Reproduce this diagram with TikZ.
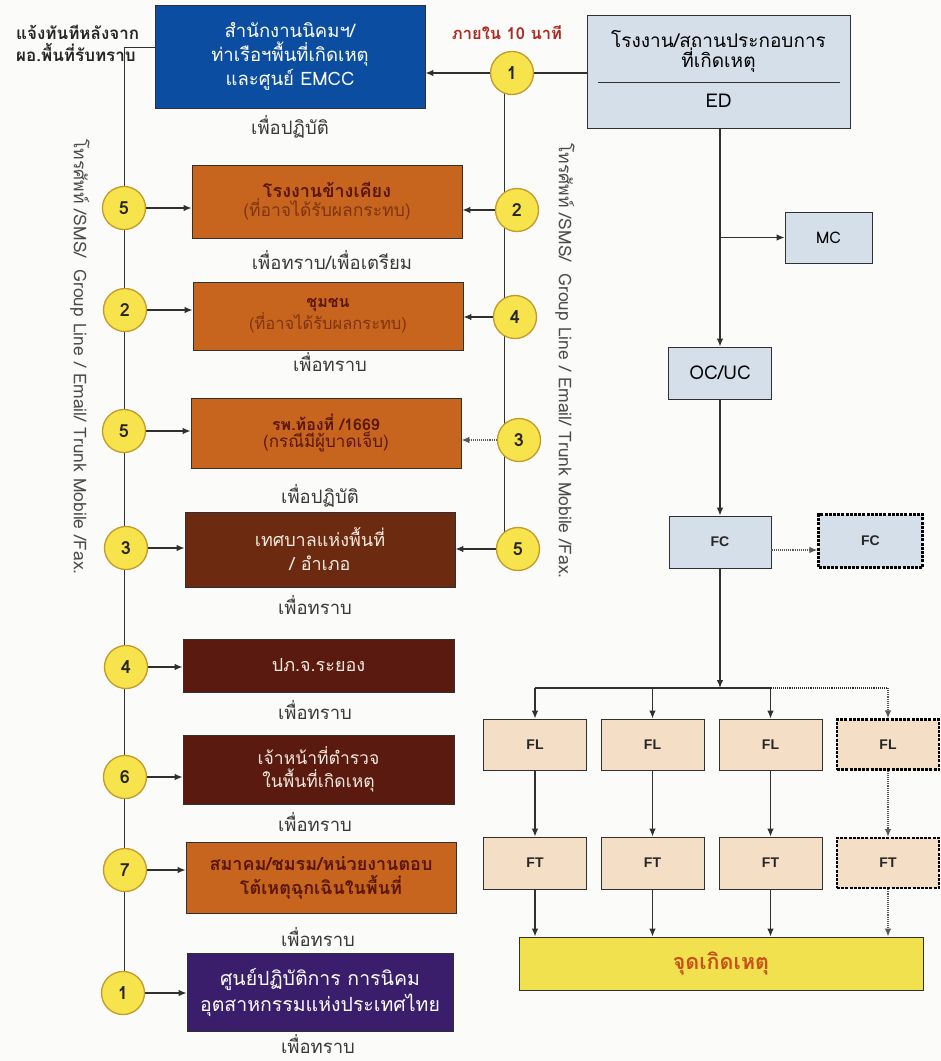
\documentclass[tikz,border=0pt]{standalone}
\usepackage{fontspec}
\setmainfont[Script=Thai]{Loma}
\newfontfamily\latsans{Liberation Sans}
\usetikzlibrary{arrows.meta}

\definecolor{paper}{HTML}{FBFBF9}
\definecolor{linec}{HTML}{303030}
\definecolor{blueb}{HTML}{0B4DA1}
\definecolor{orangeb}{HTML}{C7641E}
\definecolor{brownb}{HTML}{6C2A10}
\definecolor{darkb}{HTML}{5A1A0F}
\definecolor{purpleb}{HTML}{3A1E6C}
\definecolor{greyb}{HTML}{D5DFEA}
\definecolor{peachb}{HTML}{F4DFC6}
\definecolor{yellowb}{HTML}{F1E14E}
\definecolor{circf}{HTML}{F7E34B}
\definecolor{circd}{HTML}{C49A2A}
\definecolor{maroon}{HTML}{5A1608}
\definecolor{subbrown}{HTML}{7E3410}
\definecolor{lighttext}{HTML}{F6E9E0}
\definecolor{alertred}{HTML}{B0281E}
\definecolor{capgray}{HTML}{3A3A3A}
\definecolor{incident}{HTML}{C8501A}

\begin{document}
\begin{tikzpicture}[x=1pt,y=-1pt,
  box/.style={draw=linec, line width=0.9pt, inner sep=2pt, align=center},
  numc/.style={circle, draw=circd, line width=1.3pt, fill=circf, minimum size=43pt,
    inner sep=0pt, font=\bfseries\fontsize{18}{18}\selectfont, text=black!85},
  purpose/.style={font=\fontsize{18.5}{19}\selectfont, text=capgray, inner sep=0pt},
  conn/.style={draw=linec, line width=1.1pt},
  arr/.style={conn, -{Latex[length=8pt,width=6.5pt]}},
  dotarr/.style={draw=linec!80, line width=1.1pt, densely dotted, -{Latex[length=8pt,width=6.5pt]}},
  dashbox/.style={draw=black, line width=2.4pt, dash pattern=on 3pt off 1.2pt},
  fx/.style={font=\latsans\bfseries\fontsize{14}{15}\selectfont, text=black!85},
  vtext/.style={rotate=-90, font=\fontsize{17.5}{18}\selectfont, text=black!70}
]
\fill[paper] (0,0) rectangle (941,1061);
\useasboundingbox (0,0) rectangle (941,1061);

% ---------- right column: incident chain ----------
\node[box, fill=greyb, minimum width=263pt, minimum height=113pt] (ED) at (718.5,71.5) {};
\node[font=\fontsize{19}{20}\selectfont, align=center] (EDt) at (718.5,51) {โรงงาน/สถานประกอบการ\\ที่เกิดเหตุ};
\draw[linec, line width=0.9pt] (598,82) -- (840,82);
\node[font=\fontsize{19}{20}\selectfont] (EDl) at (718.5,101) {ED};

\node[box, fill=greyb, minimum width=87pt, minimum height=51pt, font=\fontsize{16}{17}\selectfont] (MC) at (828.5,237.5) {MC};
\node[box, fill=greyb, minimum width=103pt, minimum height=52pt, font=\fontsize{19}{20}\selectfont] (OCUC) at (720,373) {OC/UC};
\node[box, fill=greyb, minimum width=102pt, minimum height=52pt, fx] (FC) at (720,542) {FC};
\node[box, dashbox, fill=greyb, minimum width=104pt, minimum height=53pt, fx] (FCb) at (870.5,541) {FC};

\foreach \n/\cx in {1/535,2/652.5,3/770.5}{
  \node[box, fill=peachb, minimum width=103pt, minimum height=51pt, fx] (FL\n) at (\cx,744.5) {FL};
  \node[box, fill=peachb, minimum width=103pt, minimum height=52pt, fx] (FT\n) at (\cx,863) {FT};
}
\node[box, dashbox, fill=peachb, minimum width=102pt, minimum height=50pt, fx] (FL4) at (888,744.5) {FL};
\node[box, dashbox, fill=peachb, minimum width=102pt, minimum height=50pt, fx] (FT4) at (888,863) {FT};

\node[box, fill=yellowb, minimum width=404pt, minimum height=53pt,
  font=\bfseries\fontsize{21.5}{23}\selectfont, text=incident] (SITE) at (721,963.5) {จุดเกิดเหตุ};

\coordinate (mcj) at (OCUC.north |- MC.west);
\draw[arr] (ED.south -| OCUC.north) -- (OCUC.north);
\draw[arr] (mcj) -- (MC.west);
\draw[arr] (OCUC.south) -- (FC.north);
\draw[dotarr] (FC.east |- 0,550) -- (FCb.west |- 0,550);
\coordinate (br) at (720,688);
\draw[arr] (FC.south) -- (br);
\draw[conn] (FL1.north |- br) -- (FL3.north |- br);
\draw[conn, densely dotted] (FL3.north |- br) -- (FL4.north |- br);
\foreach \n in {1,2,3}{
  \draw[arr] (FL\n.north |- br) -- (FL\n.north);
  \draw[arr] (FL\n.south) -- (FT\n.north);
  \draw[arr] (FT\n.south) -- (FT\n.south |- SITE.north);
}
\draw[dotarr] (FL4.north |- br) -- (FL4.north);
\draw[dotarr] (FL4.south) -- (FT4.north);
\draw[dotarr] (FT4.south) -- (FT4.south |- SITE.north);

% ---------- first notification ----------
\node[box, fill=blueb, minimum width=270pt, minimum height=103pt,
  font=\fontsize{18.5}{24}\selectfont, text=white] (EMCC) at (290,56.5)
  {สำนักงานนิคมฯ/\\ท่าเรือฯพื้นที่เกิดเหตุ\\และศูนย์ EMCC};
\node[purpose] (cEMCC) at (290,127) {เพื่อปฏิบัติ};

\node[font=\bfseries\fontsize{17}{22}\selectfont, align=left, anchor=west, text=black!85, inner sep=0pt] (note) at (16,43)
  {แจ้งทันทีหลังจาก\\ผอ.พื้นที่รับทราบ};
\node[font=\bfseries\fontsize{16.5}{18}\selectfont, text=alertred] (within) at (507,33) {ภายใน 10 นาที};

% ---------- left column: agencies notified ----------
\node[box, fill=orangeb, minimum width=270pt, minimum height=73pt, text=maroon] (nbr) at (327,201.5)
  {{\bfseries\fontsize{18}{23}\selectfont โรงงานข้างเคียง}\\{\fontsize{17.5}{22}\selectfont\color{subbrown}(ที่อาจได้รับผลกระทบ)}};
\node[purpose] at (332,260) {เพื่อทราบ/เพื่อเตรียม};

\node[box, fill=orangeb, minimum width=270pt, minimum height=68pt, text=maroon] (comm) at (328,316)
  {{\bfseries\fontsize{16}{20}\selectfont ชุมชน}\\{\fontsize{16.5}{20}\selectfont\color{subbrown}(ที่อาจได้รับผลกระทบ)}};
\node[purpose] at (330,362) {เพื่อทราบ};

\node[box, fill=orangeb, minimum width=270pt, minimum height=70pt, text=maroon] (hosp) at (326,433)
  {{\bfseries\fontsize{16}{22}\selectfont รพ.ท้องที่ /1669}\\{\fontsize{17}{21}\selectfont(กรณีมีผู้บาดเจ็บ)}};
\node[purpose] at (320,496) {เพื่อปฏิบัติ};

\node[box, fill=brownb, minimum width=270pt, minimum height=75pt, text=lighttext,
  font=\fontsize{18}{24}\selectfont] (muni) at (320,549.5) {เทศบาลแห่งพื้นที่\\/ อำเภอ};
\node[purpose] at (315,605) {เพื่อทราบ};

\node[box, fill=darkb, minimum width=271pt, minimum height=53pt, text=lighttext,
  font=\fontsize{18}{24}\selectfont] (ppj) at (318.5,665.5) {ปภ.จ.ระยอง};
\node[purpose] at (315,710) {เพื่อทราบ};

\node[box, fill=darkb, minimum width=271pt, minimum height=69pt, text=lighttext,
  font=\fontsize{17.5}{23}\selectfont] (police) at (318.5,769.5) {เจ้าหน้าที่ตำรวจ\\ในพื้นที่เกิดเหตุ};
\node[purpose] at (315,822) {เพื่อทราบ};

\node[box, fill=orangeb, minimum width=270pt, minimum height=71pt, text=maroon,
  font=\bfseries\fontsize{18}{24}\selectfont] (assoc) at (321,877.5) {สมาคม/ชมรม/หน่วยงานตอบ\\โต้เหตุฉุกเฉินในพื้นที่};
\node[purpose] at (318,937) {เพื่อทราบ};

\node[box, fill=purpleb, minimum width=266pt, minimum height=78pt, text=white,
  font=\fontsize{19.5}{26}\selectfont] (ieat) at (320,992) {ศูนย์ปฏิบัติการ การนิคม\\อุตสาหกรรมแห่งประเทศไทย};
\node[purpose] at (318,1044) {เพื่อทราบ};

% ---------- channel labels ----------
\node[vtext] (chL) at (80,357) {โทรศัพท์ /SMS/\ \ Group Line / Email/ Trunk Mobile /Fax.};
\node[vtext] (chR) at (565,361) {โทรศัพท์ /SMS/\ \ Group Line / Email/ Trunk Mobile /Fax.};

% ---------- trunk lines ----------
\coordinate (lt) at (124,47);
\draw[conn, line width=0.9pt] (EMCC.west |- lt) -- (lt) -- (124,993);
\draw[conn, line width=0.9pt] (504,73) -- (504,540);

% ---------- numbered steps, left ----------
\node[numc] (l5a) at (124,208) {5};
\node[numc] (l2)  at (125,310) {2};
\node[numc] (l5b) at (124,431) {5};
\node[numc] (l3)  at (126,548) {3};
\node[numc] (l4)  at (126,667) {4};
\node[numc] (l6)  at (125,777) {6};
\node[numc] (l7)  at (125,870) {7};
\node[numc] (l1)  at (123,993) {1};

\draw[arr] (l5a.east) -- (l5a.east -| nbr.west);
\draw[arr] (l2.east) -- (l2.east -| comm.west);
\draw[arr] (l5b.east) -- (l5b.east -| hosp.west);
\draw[arr] (l3.east) -- (l3.east -| muni.west);
\draw[arr] (l4.east) -- (l4.east -| ppj.west);
\draw[arr] (l6.east) -- (l6.east -| police.west);
\draw[arr] (l7.east) -- (l7.east -| assoc.west);
\draw[arr] (l1.east) -- (l1.east -| ieat.west);

% ---------- numbered steps, right ----------
\node[numc] (r1) at (512,73) {1};
\node[numc] (r2) at (517,210) {2};
\node[numc] (r4) at (515,317) {4};
\node[numc] (r3) at (519,440) {3};
\node[numc] (r5) at (518,549) {5};

\draw[conn] (ED.west |- r1) -- (r1.east);
\draw[arr] (r1.west) -- (r1.west -| EMCC.east);
\draw[arr] (r2.west) -- (r2.west -| nbr.east);
\draw[arr] (r4.west) -- (r4.west -| comm.east);
\draw[dotarr] (r3.west) -- (r3.west -| hosp.east);
\draw[arr] (r5.west) -- (r5.west -| muni.east);
\end{tikzpicture}
\end{document}
